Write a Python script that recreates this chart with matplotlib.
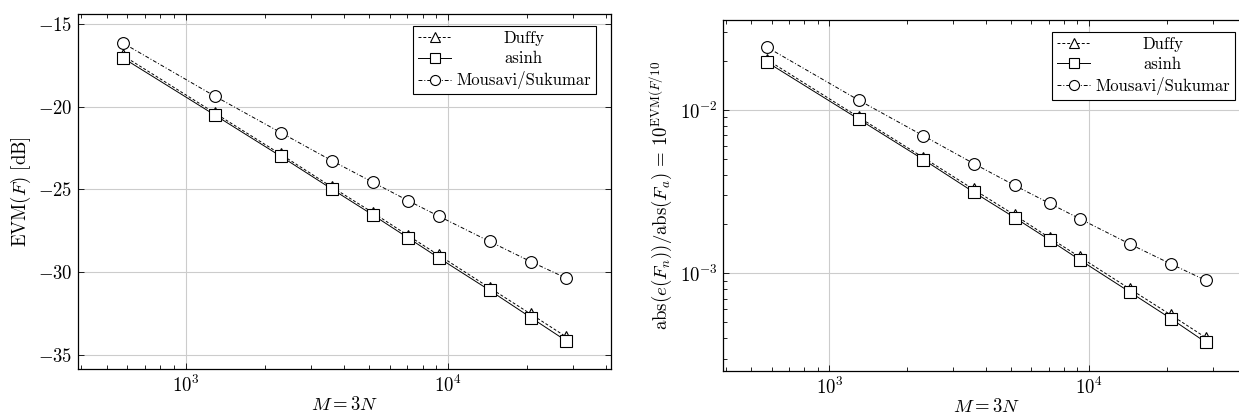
import numpy as np
import matplotlib
matplotlib.use("Agg")
import matplotlib.pyplot as plt

plt.rcParams["font.family"] = "serif"
plt.rcParams["font.serif"] = ["cmr10", "DejaVu Serif"]
plt.rcParams["mathtext.fontset"] = "cm"
plt.rcParams["axes.formatter.use_mathtext"] = True
plt.rcParams["font.size"] = 13.5

# M = 3N sample sizes
M = [576, 1296, 2304, 3600, 5184, 7056, 9216, 14400, 20736, 28224]

# left panel: EVM(F) in dB
evm_duffy = [-16.9, -20.4, -22.88, -24.85, -26.42, -27.8, -28.98, -30.95, -32.55, -33.92]
evm_asinh = [-17.05, -20.52, -23.0, -24.97, -26.56, -27.94, -29.14, -31.1, -32.76, -34.16]
evm_mousavi = [-16.15, -19.38, -21.57, -23.26, -24.58, -25.69, -26.62, -28.15, -29.38, -30.37]

# right panel: relative error
rel_duffy = [0.0203, 0.00905, 0.00511, 0.00326, 0.00227, 0.00165, 0.00126, 0.000802, 0.000555, 0.000404]
rel_asinh = [0.0196, 0.00880, 0.00497, 0.00314, 0.00219, 0.00160, 0.00121, 0.000767, 0.000527, 0.000378]
rel_mousavi = [0.0242, 0.0115, 0.00695, 0.00470, 0.00345, 0.00268, 0.00216, 0.00151, 0.00114, 0.000905]

labels = ["Duffy", "asinh", "Mousavi/Sukumar"]
styles = [dict(ls=(0, (3, 2)), marker="^"),
          dict(ls="-", marker="s"),
          dict(ls=(0, (4, 2, 1, 2)), marker="o")]

W, H = 1239, 415
fig = plt.figure(figsize=(W / 100, H / 100), dpi=100)


def px_axes(x0, y0, x1, y1):
    return fig.add_axes([x0 / W, (H - y1) / H, (x1 - x0) / W, (y1 - y0) / H])


ax1 = px_axes(78.3, 14, 610.7, 369.3)
ax2 = px_axes(723.3, 20, 1249.7, 371)


def style_axes(ax):
    ax.set_xscale("log")
    ax.set_xlim(390, 41700)
    ax.grid(True, which="major", color="#cccccc", lw=0.8)
    ax.set_axisbelow(True)
    ax.tick_params(which="both", direction="in", top=True, right=True, width=0.6)
    ax.tick_params(which="major", length=4.2, pad=4)
    ax.tick_params(which="minor", length=2.8)
    for s in ax.spines.values():
        s.set_linewidth(0.9)
    ax.set_xlabel(r"$M = 3N$", labelpad=0)


def draw(ax, series):
    for ys, lab, st in zip(series, labels, styles):
        ax.plot(M, ys, color="black", lw=0.7, ms=8.5, mfc="white",
                mec="black", mew=0.8, label=lab, **st)
    leg = ax.legend(loc="upper right", bbox_to_anchor=(0.972, 0.967),
                    fancybox=False, framealpha=1, edgecolor="black",
                    fontsize=12, handlelength=2.0, handletextpad=0.3,
                    borderpad=0.3, labelspacing=0.3, borderaxespad=0,
                    markerscale=0.85)
    leg.get_frame().set_linewidth(0.8)
    return leg


style_axes(ax1)
leg1 = draw(ax1, [evm_duffy, evm_asinh, evm_mousavi])
ax1.set_ylim(-35.88, -14.40)
ax1.set_yticks([-35, -30, -25, -20, -15])
ax1.set_ylabel(r"$\mathrm{EVM}(F)$ [dB]")

style_axes(ax2)
leg2 = draw(ax2, [rel_duffy, rel_asinh, rel_mousavi])
ax2.set_yscale("log")
ax2.set_ylim(2.52e-4, 0.0356)
ax2.set_ylabel(r"$\mathrm{abs}(e(F_n))/\mathrm{abs}(F_a)\, =\, 10^{\mathrm{EVM}(F/10}$")

# centre the legend entries like pgfplots does
fig.canvas.draw()
for leg in (leg1, leg2):
    texts = leg.get_texts()
    widths = [t.get_window_extent().width for t in texts]
    mw = max(widths)
    for t, w in zip(texts, widths):
        t.set_position(((mw - w) / 2, 0))

fig.savefig("out.png", dpi=100)
